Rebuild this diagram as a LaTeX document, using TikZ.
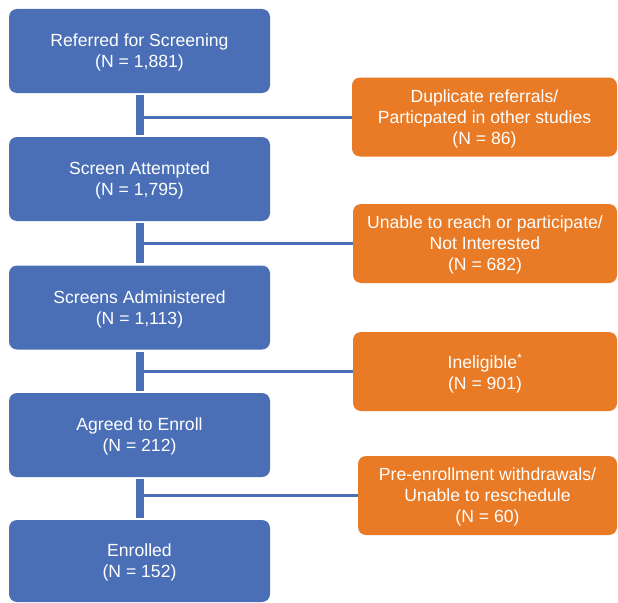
\documentclass[tikz,border=0pt]{standalone}
\usepackage{fontspec}
\setmainfont{Liberation Sans}
\usepackage{tikz}
\definecolor{stepblue}{HTML}{4A6FB6}
\definecolor{droporange}{HTML}{E97A26}
\tikzset{
	stagebox/.style={rectangle, rounded corners=8pt, fill=stepblue, text=white,
		minimum width=261pt, minimum height=84pt, inner sep=0pt, align=center,
		text depth=0pt, font=\fontsize{17.6}{21}\selectfont},
	dropbox/.style={stagebox, fill=droporange, minimum height=79pt},
	flowline/.style={draw=stepblue, line width=8pt, shorten >=2pt, shorten <=2pt},
	sideline/.style={draw=stepblue, line width=3pt}
}

\begin{document}
\begin{tikzpicture}[x=1pt, y=-1pt]
		%%%%% START %%%%%
		\useasboundingbox (0, 0) rectangle (618, 602);
		
		% main stages
		\node[stagebox] (referred) at (139.5, 51) {Referred for Screening\\(N = 1,881)};
		\node[stagebox] (attempted) at (139.5, 179) {Screen Attempted\\(N = 1,795)};
		\node[stagebox] (administered) at (139.5, 307.5) {Screens Administered\\(N = 1,113)};
		\node[stagebox] (agreed) at (139.5, 435) {Agreed to Enroll\\(N = 212)};
		\node[stagebox, minimum height=82pt] (enrolled) at (139.5, 561) {Enrolled\\(N = 152)};
		
		% exclusions
		\node[dropbox, minimum width=265pt] (duplicate) at (484.5, 117) {Duplicate referrals/\\Particpated in other studies\\(N = 86)};
		\node[dropbox, minimum width=264pt] (unreached) at (485, 243.5) {Unable to reach or participate/\\Not Interested\\(N = 682)};
		\node[dropbox, minimum width=264pt] (ineligible) at (485, 371.5) {Ineligible\textsuperscript{*}\\(N = 901)};
		\node[dropbox, minimum width=259pt] (withdrawn) at (487.5, 495.5) {Pre-enrollment withdrawals/\\Unable to reschedule\\(N = 60)};
		
		% branch points
		\coordinate (b1) at (140, 117);
		\coordinate (b2) at (140, 243.5);
		\coordinate (b3) at (140, 371.5);
		\coordinate (b4) at (140, 495.5);
		
		\draw[flowline] (referred) -- (attempted);
		\draw[flowline] (attempted) -- (administered);
		\draw[flowline] (administered) -- (agreed);
		\draw[flowline] (agreed) -- (enrolled);
		
		\draw[sideline] (b1) -- (duplicate.west);
		\draw[sideline] (b2) -- (unreached.west);
		\draw[sideline] (b3) -- (ineligible.west);
		\draw[sideline] (b4) -- (withdrawn.west);
		
		%%%%% END %%%%%
	\end{tikzpicture}
\end{document}
